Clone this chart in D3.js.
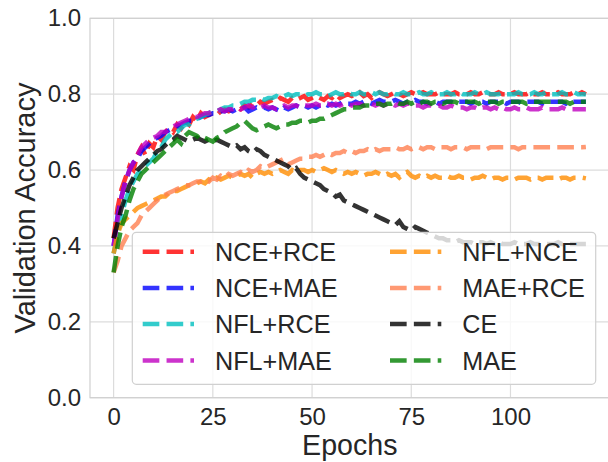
<!DOCTYPE html>
<html>
<head>
<meta charset="utf-8">
<script src="https://cdn.jsdelivr.net/npm/d3@7"></script>
<style>
  body { margin: 0; background: #fff; }
  text { font-family: "Liberation Sans", Arial, sans-serif; fill: #262626; }
</style>
</head>
<body>
<script>
// validation accuracy per epoch
const epochs = d3.range(120);
const xTicks = [0, 25, 50, 75, 100];
const yTicks = [0.0, 0.2, 0.4, 0.6, 0.8, 1.0];

const nceRce = [0.42,0.50,0.55,0.58,0.61,0.60,0.64,0.66,0.64,0.67,
0.66,0.69,0.68,0.70,0.71,0.70,0.72,0.71,0.73,0.72,
0.74,0.73,0.75,0.74,0.745,0.75,0.745,0.755,0.76,0.755,
0.76,0.765,0.76,0.77,0.765,0.775,0.77,0.78,0.775,0.78,
0.785,0.78,0.79,0.785,0.78,0.79,0.785,0.79,0.795,0.785,
0.79,0.795,0.79,0.785,0.795,0.79,0.80,0.79,0.795,0.80,
0.795,0.80,0.805,0.795,0.80,0.79,0.80,0.805,0.80,0.795,
0.80,0.805,0.80,0.795,0.80,0.805,0.80,0.80,0.805,0.80,
0.80,0.80,0.805,0.80,0.80,0.80,0.805,0.80,0.80,0.80,
0.805,0.80,0.80,0.805,0.80,0.80,0.80,0.805,0.80,0.80,
0.80,0.805,0.80,0.80,0.80,0.805,0.80,0.80,0.805,0.80,
0.80,0.80,0.805,0.80,0.80,0.80,0.805,0.80,0.805,0.80];

const nceMae = [0.40,0.48,0.53,0.57,0.60,0.62,0.63,0.65,0.66,0.67,
0.68,0.685,0.69,0.70,0.705,0.71,0.715,0.72,0.725,0.73,
0.73,0.735,0.74,0.745,0.745,0.75,0.75,0.755,0.755,0.76,
0.755,0.76,0.76,0.765,0.755,0.76,0.765,0.76,0.765,0.76,
0.765,0.76,0.755,0.765,0.76,0.765,0.77,0.765,0.77,0.765,
0.77,0.765,0.77,0.775,0.77,0.775,0.77,0.775,0.78,0.775,
0.775,0.78,0.775,0.78,0.78,0.775,0.78,0.785,0.78,0.78,
0.78,0.785,0.78,0.775,0.78,0.78,0.785,0.78,0.78,0.775,
0.78,0.78,0.775,0.78,0.78,0.78,0.775,0.78,0.78,0.78,
0.775,0.78,0.78,0.78,0.775,0.78,0.78,0.78,0.78,0.775,
0.78,0.78,0.78,0.775,0.78,0.78,0.78,0.78,0.775,0.78,
0.78,0.78,0.78,0.78,0.775,0.78,0.78,0.78,0.78,0.78];

const nflRce = [0.38,0.43,0.48,0.52,0.55,0.57,0.59,0.60,0.61,0.62,
0.63,0.65,0.66,0.68,0.69,0.70,0.70,0.71,0.72,0.72,
0.73,0.735,0.74,0.745,0.75,0.755,0.755,0.76,0.765,0.765,
0.77,0.77,0.775,0.78,0.78,0.785,0.785,0.79,0.785,0.79,
0.79,0.795,0.79,0.795,0.80,0.795,0.80,0.80,0.795,0.80,
0.80,0.805,0.80,0.80,0.795,0.80,0.805,0.80,0.80,0.805,
0.80,0.80,0.805,0.80,0.80,0.805,0.80,0.805,0.80,0.80,
0.805,0.80,0.80,0.805,0.80,0.80,0.80,0.805,0.80,0.80,
0.805,0.80,0.80,0.80,0.805,0.80,0.80,0.805,0.80,0.80,
0.80,0.805,0.80,0.80,0.805,0.80,0.80,0.80,0.805,0.80,
0.80,0.80,0.805,0.80,0.80,0.80,0.805,0.80,0.80,0.805,
0.80,0.80,0.80,0.805,0.80,0.80,0.805,0.80,0.80,0.80];

const nflMae = [0.40,0.47,0.53,0.57,0.60,0.62,0.64,0.66,0.67,0.68,
0.685,0.69,0.70,0.70,0.71,0.715,0.72,0.725,0.73,0.735,
0.74,0.74,0.745,0.75,0.75,0.755,0.755,0.76,0.755,0.76,
0.76,0.765,0.76,0.765,0.77,0.765,0.77,0.765,0.77,0.765,
0.765,0.76,0.765,0.77,0.765,0.77,0.77,0.765,0.77,0.77,
0.77,0.775,0.77,0.77,0.775,0.77,0.775,0.77,0.775,0.775,
0.77,0.775,0.775,0.77,0.775,0.775,0.77,0.775,0.77,0.775,
0.775,0.77,0.775,0.77,0.775,0.775,0.77,0.77,0.765,0.77,
0.77,0.765,0.77,0.765,0.765,0.77,0.765,0.765,0.765,0.76,
0.765,0.765,0.76,0.765,0.765,0.76,0.765,0.76,0.765,0.76,
0.76,0.765,0.76,0.76,0.765,0.76,0.76,0.76,0.765,0.76,
0.76,0.76,0.76,0.765,0.76,0.76,0.76,0.76,0.76,0.76];

const nflNce = [0.38,0.43,0.46,0.47,0.48,0.49,0.50,0.505,0.51,0.515,
0.52,0.525,0.53,0.53,0.54,0.545,0.545,0.55,0.555,0.56,
0.56,0.565,0.57,0.565,0.575,0.57,0.58,0.575,0.58,0.585,
0.58,0.585,0.59,0.585,0.59,0.58,0.59,0.595,0.59,0.595,
0.59,0.595,0.60,0.595,0.59,0.60,0.595,0.60,0.60,0.595,
0.60,0.595,0.60,0.605,0.60,0.595,0.60,0.595,0.59,0.595,
0.59,0.595,0.59,0.585,0.59,0.59,0.595,0.59,0.585,0.59,
0.585,0.59,0.58,0.59,0.595,0.585,0.58,0.585,0.58,0.585,
0.58,0.585,0.58,0.58,0.585,0.58,0.58,0.585,0.58,0.58,
0.575,0.58,0.58,0.585,0.58,0.575,0.58,0.58,0.575,0.58,
0.58,0.575,0.58,0.58,0.58,0.575,0.58,0.58,0.575,0.58,
0.58,0.58,0.575,0.58,0.58,0.575,0.58,0.58,0.58,0.578];

const maeRce = [0.33,0.36,0.40,0.42,0.44,0.45,0.46,0.48,0.49,0.50,
0.51,0.52,0.53,0.535,0.54,0.545,0.55,0.555,0.56,0.56,
0.565,0.57,0.57,0.575,0.57,0.58,0.575,0.585,0.58,0.59,
0.585,0.59,0.595,0.59,0.60,0.595,0.60,0.61,0.605,0.61,
0.615,0.62,0.625,0.63,0.615,0.62,0.625,0.63,0.63,0.635,
0.635,0.64,0.635,0.64,0.645,0.64,0.645,0.645,0.65,0.645,
0.65,0.645,0.65,0.65,0.655,0.65,0.655,0.65,0.655,0.655,
0.655,0.66,0.655,0.655,0.66,0.655,0.66,0.66,0.655,0.66,
0.66,0.655,0.66,0.66,0.66,0.655,0.66,0.66,0.66,0.655,
0.66,0.66,0.66,0.66,0.655,0.66,0.66,0.66,0.66,0.66,
0.66,0.66,0.655,0.66,0.66,0.66,0.66,0.66,0.66,0.66,
0.66,0.66,0.66,0.66,0.66,0.66,0.66,0.66,0.66,0.661];

const ce = [0.42,0.46,0.50,0.53,0.56,0.58,0.60,0.61,0.62,0.63,
0.64,0.65,0.655,0.665,0.675,0.68,0.69,0.685,0.68,0.675,
0.68,0.685,0.68,0.675,0.68,0.675,0.68,0.675,0.67,0.665,
0.66,0.665,0.655,0.66,0.65,0.645,0.655,0.65,0.64,0.635,
0.63,0.625,0.62,0.615,0.61,0.60,0.605,0.59,0.58,0.575,
0.57,0.565,0.56,0.55,0.545,0.54,0.53,0.535,0.52,0.515,
0.51,0.505,0.50,0.495,0.49,0.485,0.48,0.475,0.47,0.465,
0.46,0.455,0.465,0.45,0.445,0.44,0.45,0.445,0.44,0.435,
0.43,0.425,0.42,0.42,0.415,0.415,0.41,0.415,0.41,0.41,
0.41,0.405,0.41,0.41,0.405,0.41,0.405,0.41,0.405,0.405,
0.405,0.41,0.405,0.405,0.405,0.41,0.405,0.405,0.405,0.405,
0.405,0.405,0.41,0.405,0.405,0.405,0.405,0.405,0.405,0.405];

const mae = [0.33,0.40,0.45,0.48,0.52,0.55,0.57,0.59,0.60,0.61,
0.62,0.63,0.64,0.65,0.66,0.67,0.68,0.67,0.69,0.70,
0.695,0.69,0.68,0.685,0.68,0.675,0.685,0.69,0.70,0.705,
0.71,0.715,0.725,0.73,0.72,0.71,0.705,0.71,0.715,0.72,
0.715,0.71,0.715,0.72,0.72,0.725,0.725,0.73,0.73,0.725,
0.73,0.73,0.735,0.735,0.74,0.745,0.75,0.755,0.76,0.76,
0.765,0.765,0.765,0.77,0.77,0.77,0.775,0.775,0.77,0.775,
0.775,0.78,0.775,0.775,0.78,0.775,0.78,0.775,0.78,0.78,
0.775,0.78,0.78,0.775,0.78,0.78,0.78,0.775,0.78,0.78,
0.78,0.78,0.775,0.78,0.78,0.78,0.78,0.775,0.78,0.78,
0.78,0.78,0.78,0.78,0.775,0.78,0.78,0.78,0.78,0.78,
0.78,0.78,0.78,0.78,0.78,0.775,0.78,0.78,0.78,0.78];

const names = ['NCE+RCE', 'NCE+MAE', 'NFL+RCE', 'NFL+MAE', 'NFL+NCE', 'MAE+RCE', 'CE', 'MAE'];
const values = [nceRce, nceMae, nflRce, nflMae, nflNce, maeRce, ce, mae];
const colors = ['#ff0000', '#0000ff', '#00bfbf', '#bf00bf', '#ff8c00', '#ff7f50', '#000000', '#008000'];

const series = names.map((name, i) => ({ name, color: colors[i], values: values[i] }));

// set up SVG
const width = 608;
const height = 462;
const plotLeft = 90, plotRight = 609.5, plotTop = 18.3, plotBottom = 397.7;
const lw = 4.5;
const dash = `${(3.7 * lw).toFixed(2)},${(1.6 * lw).toFixed(2)}`;

const svg = d3.select('body').append('svg')
  .attr('width', width)
  .attr('height', height);

const x = d3.scaleLinear().domain([-5.95, 124.95]).range([plotLeft, plotRight]);
const y = d3.scaleLinear().domain([0, 1]).range([plotBottom, plotTop]);

// grid
svg.append('g').selectAll('line')
  .data(xTicks).enter().append('line')
  .attr('x1', (d) => x(d)).attr('x2', (d) => x(d))
  .attr('y1', plotTop).attr('y2', plotBottom)
  .attr('stroke', '#dcdcdc').attr('stroke-width', 1.2);
svg.append('g').selectAll('line')
  .data(yTicks).enter().append('line')
  .attr('x1', plotLeft).attr('x2', plotRight)
  .attr('y1', (d) => y(d)).attr('y2', (d) => y(d))
  .attr('stroke', '#dcdcdc').attr('stroke-width', 1.2);

// spines
svg.append('rect')
  .attr('x', plotLeft).attr('y', plotTop)
  .attr('width', plotRight - plotLeft).attr('height', plotBottom - plotTop)
  .attr('fill', 'none').attr('stroke', '#d0d0d0').attr('stroke-width', 1.2);

// axes (labels only, no tick marks)
const xAxis = svg.append('g')
  .attr('transform', `translate(0,${plotBottom})`)
  .call(d3.axisBottom(x).tickValues(xTicks).tickSize(0).tickPadding(10));
const yAxis = svg.append('g')
  .attr('transform', `translate(${plotLeft},0)`)
  .call(d3.axisLeft(y).tickValues(yTicks).tickSize(0).tickPadding(9).tickFormat(d3.format('.1f')));
[xAxis, yAxis].forEach((a) => {
  a.select('.domain').remove();
  a.selectAll('text')
    .attr('font-size', 24)
    .attr('fill', '#262626')
    .style('font-family', '"Liberation Sans", Arial, sans-serif');
});

svg.append('text')
  .attr('x', (plotLeft + plotRight) / 2)
  .attr('y', 455)
  .attr('text-anchor', 'middle')
  .attr('font-size', 28.6)
  .text('Epochs');

svg.append('text')
  .attr('transform', `translate(35,${(plotTop + plotBottom) / 2}) rotate(-90)`)
  .attr('text-anchor', 'middle')
  .attr('font-size', 29)
  .text('Validation Accuracy');

// lines
const line = d3.line()
  .x((d, i) => x(epochs[i]))
  .y((d) => y(d));

svg.append('g').selectAll('path')
  .data(series).enter().append('path')
  .attr('d', (d) => line(d.values))
  .attr('fill', 'none')
  .attr('stroke', (d) => d.color)
  .attr('stroke-opacity', 0.8)
  .attr('stroke-width', lw)
  .attr('stroke-dasharray', dash);

// legend, two columns
const leg = svg.append('g');
leg.append('rect')
  .attr('x', 132.3).attr('y', 232.3)
  .attr('width', 595.7 - 132.3).attr('height', 384.3 - 232.3)
  .attr('rx', 4).attr('ry', 4)
  .attr('fill', '#fff').attr('fill-opacity', 0.8)
  .attr('stroke', '#d0d0d0').attr('stroke-width', 1.2);

const rowY = [251.7, 287.9, 324.1, 360.5];
const colX = [142.7, 390];
const item = leg.selectAll('g')
  .data(series).enter().append('g')
  .attr('transform', (d, i) => `translate(${colX[Math.floor(i / 4)]},${rowY[i % 4]})`);
item.append('line')
  .attr('x1', 0).attr('x2', 51.3)
  .attr('stroke', (d) => d.color)
  .attr('stroke-opacity', 0.8)
  .attr('stroke-width', lw)
  .attr('stroke-dasharray', dash);
item.append('text')
  .attr('x', 72.3)
  .attr('y', 9.2)
  .attr('font-size', 25.2)
  .text((d) => d.name);
</script>
</body>
</html>
